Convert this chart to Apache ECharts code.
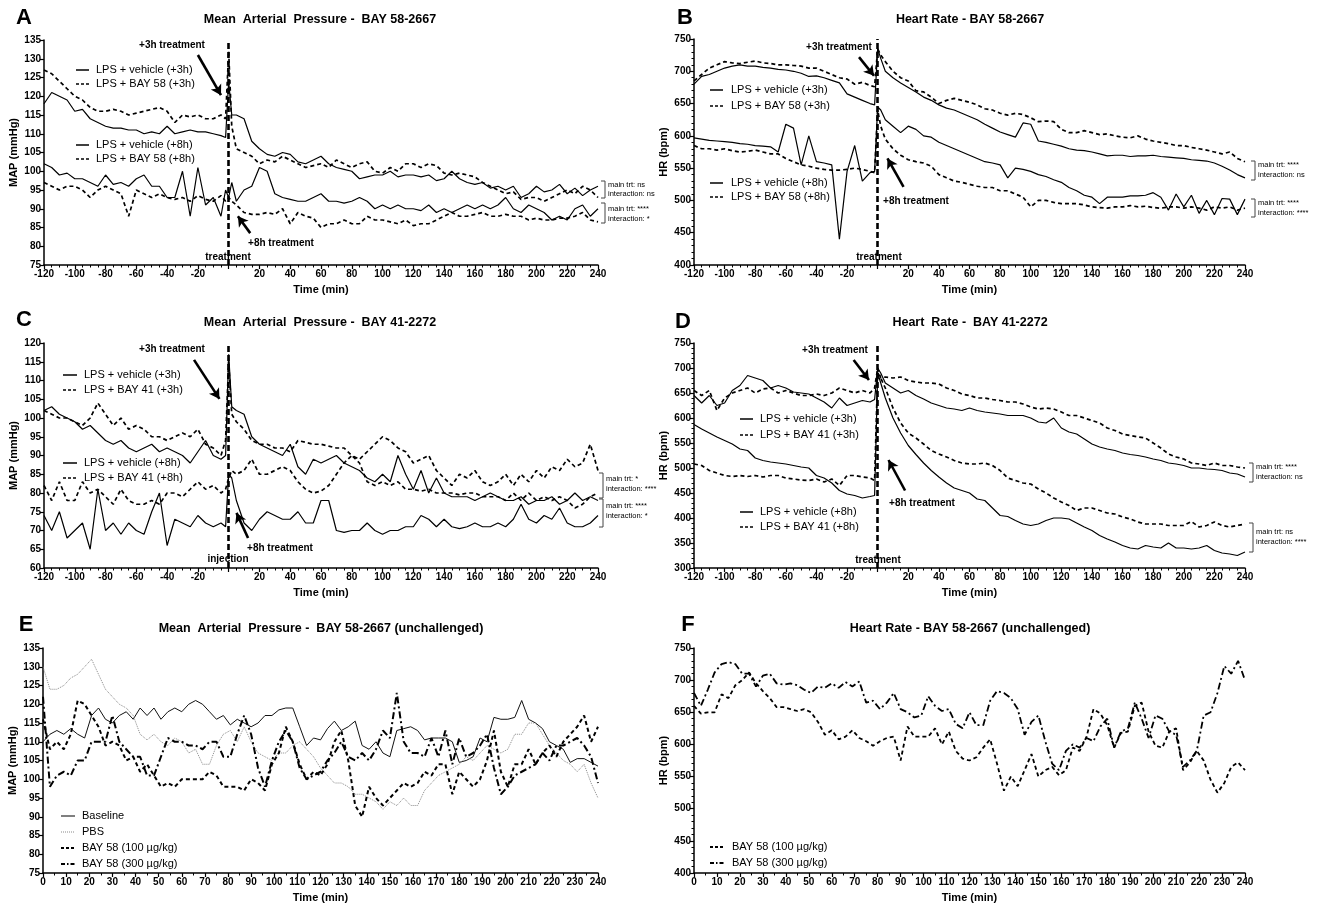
<!DOCTYPE html>
<html><head><meta charset="utf-8">
<script src="https://cdn.jsdelivr.net/npm/echarts@6/dist/echarts.min.js"></script>
<style>html,body{margin:0;padding:0;background:#fff}#c{width:1324px;height:908px}</style>
</head><body><div id="c"></div><script>
// ---------- DATA ----------
const TIME_AD = [-120,-115,-110,-105,-100,-95,-90,-85,-80,-75,-70,-65,-60,-55,-50,-45,-40,-35,-30,-25,-20,-15,-10,-5,-2,0,2,5,10,15,20,25,30,35,40,45,50,55,60,65,70,75,80,85,90,95,100,105,110,115,120,125,130,135,140,145,150,155,160,165,170,175,180,185,190,195,200,205,210,215,220,225,230,235,240];
const TIME_EF = [0,3,6,9,12,15,18,21,24,27,30,33,36,39,42,45,48,51,54,57,60,63,66,69,72,75,78,81,84,87,90,93,96,99,102,105,108,111,114,117,120,123,126,129,132,135,138,141,144,147,150,153,156,159,162,165,168,171,174,177,180,183,186,189,192,195,198,201,204,207,210,213,216,219,222,225,228,231,234,237,240];

// Panel A: MAP BAY 58-2667
const A_VEH3 = [118,121,120,119,116,116.5,114,113,112,111.5,111.5,111,111,110,110.5,110,112,110,110.5,111,110.5,110.5,110,109.5,
 109,124,115,
 115,114,108,106,104.5,104,105,104.5,102.5,102,103,104,102,101,100.5,100,98,98.5,99,99,100,98.5,99,99,98.5,99,97.5,98,100,98,97,96.5,97,95.5,96,95,96,93,94,96,94.5,95,96.5,94,95.5,93.5,95,96];
const A_BAY3 = [127,126,124,122,120,119,117,116,116,116.5,116,115,115.5,116,116.5,117,116,113,115,114.5,115,114,114,115,
 114,132,112,
 106,105,104,102,103,102.5,104,103,102,101,101.5,102,101,103,102,101,102,102.5,100,99.5,101,100,102,102,101,102,101.5,99.5,99,99.5,99,98.5,97,96,95,94,94.5,92.5,93,93,92,93,94,95,94,96,95,93];
const A_VEH8 = [102,101,99,99.5,98,98,97,96,99,96.5,97,96,98,99,96,96,93,93,100,88,101,91,93,88,
 95,93,97,
 92,95,96,101,100,94,93,92.5,92,92,93,94,92,92,91.5,92,93,92,90,91,90,91,90,90,89.5,91,89,90,89,90,91,90,91,90,91,93,90,89,91,90,89,87,88,87,90,91,88,90];
const A_BAY8 = [97,96,95,96,96,95,93,95,96,95,94,88,95,94,93,94,93,92.5,93,92,93.5,92.5,92,93.5,
 92,93,92,
 91,89,88.5,88.5,89,88.5,90,86,89,88,87.5,85,86,86,87,86,86,88,87,87,86.5,86,87,85.5,86,86,87,88,89,88,88,88.5,89,88,88,88.5,88,88,87,87.5,87,87,87.5,87.5,88,89,87,86.5];

// Panel B: HR BAY 58-2667
const B_VEH3 = [680,692,695,700,705,708,710,708,708,706,705,703,702,700,697,692,693,690,686,682,665,660,655,650,
 648,735,720,
 700,690,682,675,668,660,655,648,643,640,635,630,625,618,612,606,602,598,620,618,592,590,587,584,580,578,577,575,572,569,570,570,568,569,569,570,568,567,566,565,563,562,561,558,553,547,540,535];
const B_BAY3 = [685,695,705,710,715,713,712,714,716,713,712,710,710,709,708,705,705,700,695,690,688,680,683,678,
 676,735,725,
 715,700,690,685,670,668,660,650,655,658,655,652,648,642,640,635,632,635,633,628,622,623,622,610,605,605,608,605,602,603,600,598,597,600,595,592,590,588,585,585,582,580,578,575,572,575,565,560];
const B_VEH8 = [597,595,593,592,591,590,588,587,585,584,583,575,618,612,555,600,560,558,555,440,545,585,530,543,
 545,645,640,
 625,615,605,615,610,600,598,590,585,580,575,570,565,560,558,555,535,550,548,545,540,537,532,528,520,515,508,505,495,505,505,505,507,507,508,512,505,485,510,490,508,480,500,478,503,502,478,502];
const B_BAY8 = [585,580,580,578,580,577,575,576,578,575,572,572,565,560,555,553,550,548,547,547,548,550,548,545,
 543,640,615,
 595,580,570,563,560,558,553,540,535,530,528,525,522,520,520,515,515,510,505,490,500,500,497,495,495,495,493,490,489,488,490,490,492,490,491,489,488,490,490,488,490,488,485,490,488,490,485,488];

// Panel C: MAP BAY 41-2272
const C_VEH3 = [102,103,101,100,99,97,98,96,94,93,94,92,91,92,93,91,92,91,90,88,91,94,90,89,
 90,117,103,
 102,101,95,93,92,91,90,93,87,85,89,88,89,90,88,87,86,84,83,85,83,90,85,81,86,80,84,80,79,79,79,78,79,80,79,78,78,79,77,78,78,79,77,78,80,78,79,78];
const C_BAY3 = [102,101,100,100,99,98,100,104,101,98,100,97,98,97,95,95,94,95,96,95,97,93,92,90,
 94,115,101,
 99,97,94,93,93,92,92,91,94,93.5,93,93,92.5,92,92,90,88,83,82,83,82,83,81,81,80.5,81,80,80,80,79.5,80,80,79,79,79,78,80,78,80,78,79,78,79,78,76,77,79,80];
const C_VEH8 = [74,70,75,68,70,72,65,81,70,72,69,72,70,69,75,80,66,73,72,71,74,72,71,72,
 71,85,84,
 78,72,70,73,75,74,73,73,75,72,72,78,78,70,69.5,70,70,72,70,69,70,70,71,71,74,73,71,73,71,70.5,71,72,71,71,72,71,73,77,73,72,74,73,76,72,71,71,72,74];
const C_BAY8 = [82,78,83,78,78,83,80,81,79,77,81,78,77,77,78,77,80,80,79,81,83,81,82,80,
 81,84,86,
 85,86,89,85,85,86,87,86,83,81,80,80.5,82,85,88,90,89,91,93,95,94,92,91,88,89,90,86,84,82,85,84,86,83,82,83,85,82,85,83,86,84,87,86,89,87,88,93,86];

// Panel D: HR BAY 41-2272
const D_VEH3 = [645,630,645,625,630,655,665,685,680,675,660,665,660,652,650,648,640,632,620,640,625,630,635,632,
 637,700,690,
 670,660,650,655,645,638,630,625,620,618,615,620,615,612,610,608,605,605,605,600,592,590,600,580,572,568,558,548,542,538,535,530,527,525,522,518,515,510,508,505,500,500,498,497,495,490,488,482];
const D_BAY3 = [655,645,655,615,640,650,655,660,650,658,660,650,655,650,645,645,648,645,650,660,655,650,655,650,
 660,700,680,
 682,680,682,675,672,670,670,668,660,655,648,645,640,640,637,635,632,632,628,622,618,620,618,612,605,605,600,595,590,580,575,568,565,562,560,550,540,528,522,518,510,508,505,510,505,505,502,500];
const D_VEH8 = [587,578,570,562,555,548,538,535,520,515,512,510,508,505,502,500,485,480,470,455,448,445,440,443,
 445,690,670,
 640,600,570,545,527,510,495,482,470,460,455,450,438,435,420,405,403,395,388,385,388,395,400,400,398,390,382,375,365,358,352,345,340,338,345,342,340,350,340,340,338,340,345,335,330,328,325,332];
const D_BAY8 = [508,505,495,490,485,483,485,483,485,482,485,485,480,478,476,475,478,472,478,465,485,485,482,480,
 475,690,680,
 660,620,590,570,560,548,535,528,522,515,510,508,508,510,505,495,480,475,470,468,458,450,440,432,425,415,420,420,415,410,408,402,398,392,388,388,388,385,385,385,393,382,385,392,385,382,385,388];

// Panel E: MAP unchallenged
const E_BASE = [110,112,113,112,113.5,112,111,117,119,116,115,117,118,116,119,117,119,116,118,119,118,120,121,120,118,116,117,114.5,116,115,114,115,117,117,118.5,119,119,114,109,111,110.5,113.5,115.5,113,114,115.5,109,108,110,107,106,113,113.5,114,113,110.5,111,111,111,110,104.5,105,106,111,110,116.5,116,116,116.5,121,116,115,113.5,110,109,108,104.5,105.5,105.5,104.5,103.5];
const E_PBS = [130,124,124,125,127,128,130,132,128,124,122,120,119,117,112,110.5,112,110,109,111,110,107,108,104,104,109,112,113,110,114,110,107,106,105,107,107,109,110,108,106,103,101,99,99,98,96,96,95,94,92,94,93,95,93,93,97,99,101,102,103,104,106,105,107,109,108,107,108,112,112,115,115,112,109,107,105,104,102,104,99,95];
const E_B100 = [116,108,110,108,112,121,120,117,114,109,110,109,105,106,102,104,101,98,99,98,100,100,100,100,102,101,98,98,98,97,100,99,97,104,107,114,110,104,100,102,101,104,110,113,105,93,90,98,95,93,95,97,99,98,99,102,101,104,104,96,102,100,98,100,105,113,102,98,104,104,108,104,107,109,106,110,112,114,117,110,114];
const E_B300 = [122,98,101,102,101,105,105,110,110,110,117,110,108,106,106,101,101,106,111,110,110,109,109,108,110,110,106,106,112,117,112,103,98,105,110,113,110,103,100,101,102,105,107,110,106,105,107,105,108,113,111,123,110,107,107,106,111,106,113,104,111,106,107,109,112,103,96,98,101,102,103,104,107,105,109,109,110,111,109,106,99];

// Panel F: HR unchallenged
const F_B100 = [660,648,650,650,678,672,692,700,712,695,683,672,658,658,655,652,655,650,635,615,622,608,612,622,610,605,598,605,610,612,575,628,612,612,612,625,600,620,590,578,575,580,595,608,570,528,550,535,560,585,550,560,565,552,560,595,590,612,655,648,630,595,618,620,660,665,620,598,595,620,625,560,572,590,575,545,525,540,565,572,560];
const F_B300 = [680,660,685,712,725,728,725,710,710,690,707,710,695,693,695,692,685,680,690,688,695,688,697,690,698,665,668,655,665,680,655,650,642,645,675,660,652,655,632,625,650,630,630,668,683,680,672,655,615,635,645,605,570,560,590,600,595,610,605,628,640,595,620,625,665,640,610,645,640,620,615,565,575,590,645,650,680,722,710,730,700];

const LABELS_AD = ['LPS + vehicle (+3h)','LPS + BAY 58 (+3h)','LPS + vehicle (+8h)','LPS + BAY 58 (+8h)'];
const LABELS_CD = ['LPS + vehicle (+3h)','LPS + BAY 41 (+3h)','LPS + vehicle (+8h)','LPS + BAY 41 (+8h)'];
const LABELS_E = ['Baseline','PBS','BAY 58 (100 µg/kg)','BAY 58 (300 µg/kg)'];
const LABELS_F = ['BAY 58 (100 µg/kg)','BAY 58 (300 µg/kg)'];

// ---------- STYLE / LAYOUT ----------
const FONT = '"Liberation Sans", Arial, sans-serif';
const GRIDS = [
  {left:44, top:40, width:554, height:225},
  {left:694, top:39, width:551, height:226},
  {left:44, top:343, width:554, height:225},
  {left:694, top:343, width:551, height:225},
  {left:43, top:648, width:555, height:225},
  {left:694, top:648, width:551, height:225}
];
const SOLID = {color:'#000', width:1.2, type:'solid'};
const DASH = {color:'#000', width:1.7, type:[4,3]};

function xAx(gi, min, max, interval, minorSplit, hideZero){
  return {type:'value', gridIndex:gi, min, max, interval,
    name:'Time (min)', nameLocation:'middle', nameGap:19,
    nameTextStyle:{fontFamily:FONT, fontSize:11, fontWeight:'bold', color:'#000'},
    axisLine:{show:true, onZero:false, lineStyle:{color:'#000', width:1.5}},
    axisTick:{show:true, length:4, lineStyle:{color:'#000', width:1.2}},
    minorTick:{show:true, splitNumber:minorSplit, length:2.5, lineStyle:{color:'#000', width:1}},
    axisLabel:{fontFamily:FONT, fontSize:10, fontWeight:'bold', color:'#000', margin:4,
      formatter: v => (hideZero && v === 0) ? '' : String(v)},
    splitLine:{show:false}, minorSplitLine:{show:false}};
}
function yAx(gi, name, min, max, interval, minorSplit){
  return {type:'value', gridIndex:gi, min, max, interval,
    name, nameLocation:'middle', nameGap:25,
    nameTextStyle:{fontFamily:FONT, fontSize:11, fontWeight:'bold', color:'#000'},
    axisLine:{show:true, onZero:false, lineStyle:{color:'#000', width:1.5}},
    axisTick:{show:true, length:4, lineStyle:{color:'#000', width:1.2}},
    minorTick:{show:minorSplit>0, splitNumber:minorSplit||5, length:2.5, lineStyle:{color:'#000', width:1}},
    axisLabel:{fontFamily:FONT, fontSize:10, fontWeight:'bold', color:'#000', margin:3},
    splitLine:{show:false}, minorSplitLine:{show:false}};
}
function ser(name, gi, times, vals, style, markLine){
  const s = {name, type:'line', xAxisIndex:gi, yAxisIndex:gi,
    data: times.map((t,i)=>[t, vals[i]]),
    showSymbol:false, symbol:'none', lineStyle:style, silent:true, animation:false, z:3};
  if (markLine) s.markLine = markLine;
  return s;
}
function treatMarks(a3, a8){
  const arrow = (p) => [
    {coord:p[0], symbol:'none', lineStyle:{color:'#000', width:2.6, type:'solid'}},
    {coord:p[1], symbol:'arrow', symbolSize:[9,10]}];
  return {silent:true, animation:false, symbol:['none','none'], label:{show:false},
    emphasis:{disabled:true},
    data:[{xAxis:0, lineStyle:{color:'#000', width:2.6, type:[6,3]}}, arrow(a3), arrow(a8)]};
}

const series = [
  ser(LABELS_AD[0],0,TIME_AD,A_VEH3,SOLID, treatMarks([[-20,131],[-5,120.3]], [[14,83.5],[6,88]])),
  ser(LABELS_AD[1],0,TIME_AD,A_BAY3,DASH),
  ser(LABELS_AD[2],0,TIME_AD,A_VEH8,SOLID),
  ser(LABELS_AD[3],0,TIME_AD,A_BAY8,DASH),
  ser(LABELS_AD[0],1,TIME_AD,B_VEH3,SOLID, treatMarks([[-12.2,722],[-2.4,693]], [[16.9,521],[6.4,565]])),
  ser(LABELS_AD[1],1,TIME_AD,B_BAY3,DASH),
  ser(LABELS_AD[2],1,TIME_AD,B_VEH8,SOLID),
  ser(LABELS_AD[3],1,TIME_AD,B_BAY8,DASH),
  ser(LABELS_CD[0],2,TIME_AD,C_VEH3,SOLID, treatMarks([[-22.5,115.5],[-6,105.1]], [[12.6,68],[5.1,74.7]])),
  ser(LABELS_CD[1],2,TIME_AD,C_BAY3,DASH),
  ser(LABELS_CD[2],2,TIME_AD,C_VEH8,SOLID),
  ser(LABELS_CD[3],2,TIME_AD,C_BAY8,DASH),
  ser(LABELS_CD[0],3,TIME_AD,D_VEH3,SOLID, treatMarks([[-15.7,716],[-5.7,676]], [[17.9,455],[7.1,516]])),
  ser(LABELS_CD[1],3,TIME_AD,D_BAY3,DASH),
  ser(LABELS_CD[2],3,TIME_AD,D_VEH8,SOLID),
  ser(LABELS_CD[3],3,TIME_AD,D_BAY8,DASH),
  ser(LABELS_E[0],4,TIME_EF,E_BASE,{color:'#111', width:1, type:'solid'}),
  ser(LABELS_E[1],4,TIME_EF,E_PBS,{color:'#8a8a8a', width:1, type:[1,1]}),
  ser(LABELS_E[2],4,TIME_EF,E_B100,{color:'#000', width:2, type:[4,3]}),
  ser(LABELS_E[3],4,TIME_EF,E_B300,{color:'#000', width:2, type:[7,3,2,3]}),
  ser(LABELS_F[0],5,TIME_EF,F_B100,{color:'#000', width:1.8, type:[4,3]}),
  ser(LABELS_F[1],5,TIME_EF,F_B300,{color:'#000', width:1.8, type:[7,3,2,3]})
];

// ---------- GRAPHIC (titles, legends, annotations) ----------
const G = [];
function txt(x, y, text, size, weight, align, color){
  G.push({type:'text', x, y, silent:true, style:{text, fontFamily:FONT, fontSize:size, fontWeight:weight||'normal',
    fill:color||'#000', align:align||'center', verticalAlign:'middle'}});
}
function seg(x1, y1, x2, y2, dash, w, color){
  G.push({type:'line', silent:true, shape:{x1,y1,x2,y2}, style:{stroke:color||'#000', lineWidth:w||1.5, lineDash:dash||null}});
}
function legendRow(x1, x2, tx, y, text, dash, w, color){
  seg(x1, y, x2, y, dash, w, color);
  txt(tx, y, text, 11, 'normal', 'left');
}
function bracket(x, y1, y2, t1, ty1, t2, ty2){
  G.push({type:'polyline', silent:true, shape:{points:[[x-4,y1],[x,y1],[x,y2],[x-4,y2]]}, style:{stroke:'#444', lineWidth:1, fill:null}});
  txt(x+3, ty1, t1, 7.5, 'normal', 'left');
  txt(x+3, ty2, t2, 7.5, 'normal', 'left');
}
// panel letters
txt(24,18,'A',22,'bold'); txt(685,18,'B',22,'bold');
txt(24,320,'C',22,'bold'); txt(683,322,'D',22,'bold');
txt(26,625,'E',22,'bold'); txt(688,625,'F',22,'bold');
// titles
txt(320,20,'Mean  Arterial  Pressure -  BAY 58-2667',12.5,'bold');
txt(970,20,'Heart Rate - BAY 58-2667',12.5,'bold');
txt(320,323,'Mean  Arterial  Pressure -  BAY 41-2272',12.5,'bold');
txt(970,323,'Heart  Rate -  BAY 41-2272',12.5,'bold');
txt(321,629,'Mean  Arterial  Pressure -  BAY 58-2667 (unchallenged)',12.5,'bold');
txt(970,629,'Heart Rate - BAY 58-2667 (unchallenged)',12.5,'bold');
// legends A
legendRow(76,89,96,70,LABELS_AD[0],null,1.5); legendRow(76,89,96,84,LABELS_AD[1],[3,2],1.5);
legendRow(76,89,96,145,LABELS_AD[2],null,1.5); legendRow(76,89,96,159,LABELS_AD[3],[3,2],1.5);
// legends B
legendRow(710,723,731,90,LABELS_AD[0],null,1.5); legendRow(710,723,731,106,LABELS_AD[1],[3,2],1.5);
legendRow(710,723,731,183,LABELS_AD[2],null,1.5); legendRow(710,723,731,197,LABELS_AD[3],[3,2],1.5);
// legends C
legendRow(63,77,84,375,LABELS_CD[0],null,1.5); legendRow(63,77,84,390,LABELS_CD[1],[3,2],1.5);
legendRow(63,77,84,463,LABELS_CD[2],null,1.5); legendRow(63,77,84,478,LABELS_CD[3],[3,2],1.5);
// legends D
legendRow(740,753,760,419,LABELS_CD[0],null,1.5); legendRow(740,753,760,435,LABELS_CD[1],[3,2],1.5);
legendRow(740,753,760,512,LABELS_CD[2],null,1.5); legendRow(740,753,760,527,LABELS_CD[3],[3,2],1.5);
// legends E
legendRow(61,75,82,816,LABELS_E[0],null,1); legendRow(61,75,82,832,LABELS_E[1],[1,1],1,'#8a8a8a');
legendRow(61,75,82,848,LABELS_E[2],[3,2],1.8); legendRow(61,75,82,864,LABELS_E[3],[4,2,1.5,2],1.8);
// legends F
legendRow(710,725,732,847,LABELS_F[0],[3,2],1.8); legendRow(710,725,732,863,LABELS_F[1],[4,2,1.5,2],1.8);
// treatment annotations
txt(172,45,'+3h treatment',10,'bold'); txt(281,243,'+8h treatment',10,'bold'); txt(228,257,'treatment',10,'bold');
txt(839,47,'+3h treatment',10,'bold'); txt(916,201,'+8h treatment',10,'bold'); txt(879,257,'treatment',10,'bold');
txt(172,349,'+3h treatment',10,'bold'); txt(280,548,'+8h treatment',10,'bold'); txt(228,559,'injection',10,'bold');
txt(835,350,'+3h treatment',10,'bold'); txt(922,503,'+8h treatment',10,'bold'); txt(878,560,'treatment',10,'bold');
// statistics brackets
bracket(605,181,198,'main trt: ns',185,'interaction: ns',194);
bracket(605,203,223,'main trt: ****',209,'interaction: *',219);
bracket(1255,161,180,'main trt: ****',165,'interaction: ns',175);
bracket(1255,199,217,'main trt: ****',203,'interaction: ****',213);
bracket(603,473,498,'main trt: *',479,'interaction: ****',489);
bracket(603,499,527,'main trt: ****',506,'interaction: *',516);
bracket(1253,463,482,'main trt: ****',467,'interaction: ns',477);
bracket(1253,523,552,'main trt: ns',532,'interaction: ****',542);

const option = {
  animation:false,
  backgroundColor:'#fff',
  grid: GRIDS,
  xAxis:[xAx(0,-120,240,20,4,true), xAx(1,-120,240,20,4,true), xAx(2,-120,240,20,4,true), xAx(3,-120,240,20,4,true),
         xAx(4,0,240,10,2,false), xAx(5,0,240,10,2,false)],
  yAxis:[yAx(0,'MAP (mmHg)',75,135,5,0), yAx(1,'HR (bpm)',400,750,50,5),
         yAx(2,'MAP (mmHg)',60,120,5,0), yAx(3,'HR (bpm)',300,750,50,5),
         yAx(4,'MAP (mmHg)',75,135,5,0), yAx(5,'HR (bpm)',400,750,50,5)],
  series,
  graphic: G
};
const chart = echarts.init(document.getElementById('c'), null, {renderer:'canvas'});
chart.setOption(option);
</script></body></html>
